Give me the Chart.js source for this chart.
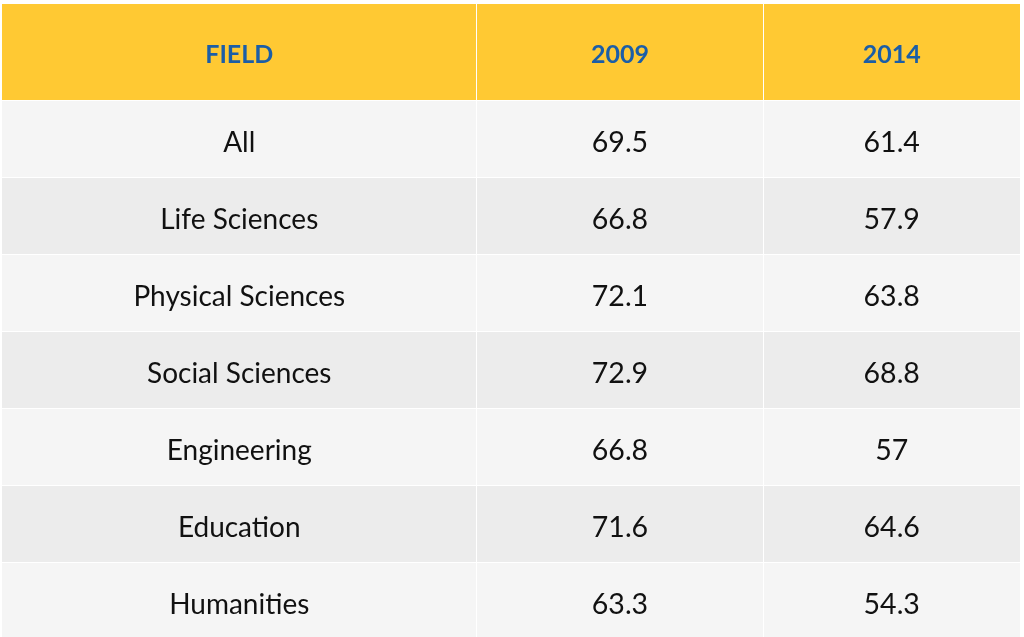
<!DOCTYPE html>
<html>
<head>
<meta charset="utf-8">
<script src="https://cdn.jsdelivr.net/npm/chart.js@4"></script>
<style>
  html, body { margin: 0; padding: 0; background: #fff; }
  #wrap { width: 1024px; height: 637px; }
</style>
</head>
<body>
<div id="wrap"><canvas id="tabela"></canvas></div>
<script>
// dados da tabela
const cabecalho = ['FIELD', '2009', '2014'];
const campos = ['All', 'Life Sciences', 'Physical Sciences', 'Social Sciences', 'Engineering', 'Education', 'Humanities'];
const valores2009 = [69.5, 66.8, 72.1, 72.9, 66.8, 71.6, 63.3];
const valores2014 = [61.4, 57.9, 63.8, 68.8, 57, 64.6, 54.3];

// layout (unidades das escalas)
const colunas = [0, 0.4661, 0.748, 1];
const alturaCabecalho = 1.26;
const linhas = [0, alturaCabecalho];
campos.forEach((c, i) => linhas.push(alturaCabecalho + i + 1));

const cores = {
  cabecalho: '#FFC933',
  textoCabecalho: '#1B5EA7',
  par: '#F5F5F5',
  impar: '#ECECEC',
  texto: '#111111'
};

// pontos no centro de cada célula (invisíveis, só para dar dados ao gráfico)
const pontos = [];
campos.forEach((c, i) => {
  for (let j = 0; j < 3; j++) {
    pontos.push({ x: (colunas[j] + colunas[j + 1]) / 2, y: (linhas[i + 1] + linhas[i + 2]) / 2 });
  }
});

const tabelaPlugin = {
  id: 'tabela',
  beforeDatasetsDraw(chart) {
    const { ctx, scales: { x, y } } = chart;
    const px = v => x.getPixelForValue(v);
    const py = v => y.getPixelForValue(v);
    ctx.save();

    // fundo das células
    for (let r = 0; r < linhas.length - 1; r++) {
      const y0 = py(linhas[r]), y1 = py(linhas[r + 1]);
      ctx.fillStyle = r === 0 ? cores.cabecalho : (r % 2 === 1 ? cores.par : cores.impar);
      ctx.fillRect(px(0), y0, px(1) - px(0), y1 - y0);
    }

    // separadores brancos
    ctx.fillStyle = '#ffffff';
    for (let r = 1; r < linhas.length - 1; r++) {
      ctx.fillRect(px(0), Math.round(py(linhas[r])) - 1, px(1) - px(0), 1);
    }
    for (let c = 1; c < colunas.length - 1; c++) {
      ctx.fillRect(Math.round(px(colunas[c])), py(0), 1, py(linhas[linhas.length - 1]) - py(0));
    }

    // textos
    ctx.textAlign = 'center';
    ctx.textBaseline = 'middle';
    const meio = (a, b) => (a + b) / 2;

    ctx.font = 'bold 25px Lato';
    ctx.fillStyle = cores.textoCabecalho;
    cabecalho.forEach((t, j) => {
      ctx.fillText(t, px(meio(colunas[j], colunas[j + 1])), py(meio(linhas[0], linhas[1])) + 2);
    });

    ctx.fillStyle = cores.texto;
    campos.forEach((campo, i) => {
      const yc = py(meio(linhas[i + 1], linhas[i + 2])) + 3;
      ctx.font = '28px Lato';
      ctx.fillText(campo, px(meio(colunas[0], colunas[1])), yc);
      ctx.font = '28.5px Lato';
      ctx.fillText(String(valores2009[i]), px(meio(colunas[1], colunas[2])), yc);
      ctx.fillText(String(valores2014[i]), px(meio(colunas[2], colunas[3])), yc);
    });

    ctx.restore();
  }
};

new Chart(document.getElementById('tabela'), {
  type: 'scatter',
  data: {
    datasets: [{ data: pontos, pointRadius: 0, pointHoverRadius: 0 }]
  },
  options: {
    responsive: true,
    maintainAspectRatio: false,
    animation: false,
    layout: { padding: { left: 2, top: 4, right: 4, bottom: 0 } },
    plugins: { legend: { display: false }, tooltip: { enabled: false } },
    scales: {
      x: { type: 'linear', min: 0, max: 1, display: false },
      y: { type: 'linear', reverse: true, min: 0, max: 633 / 77, display: false }
    }
  },
  plugins: [tabelaPlugin]
});
</script>
</body>
</html>
